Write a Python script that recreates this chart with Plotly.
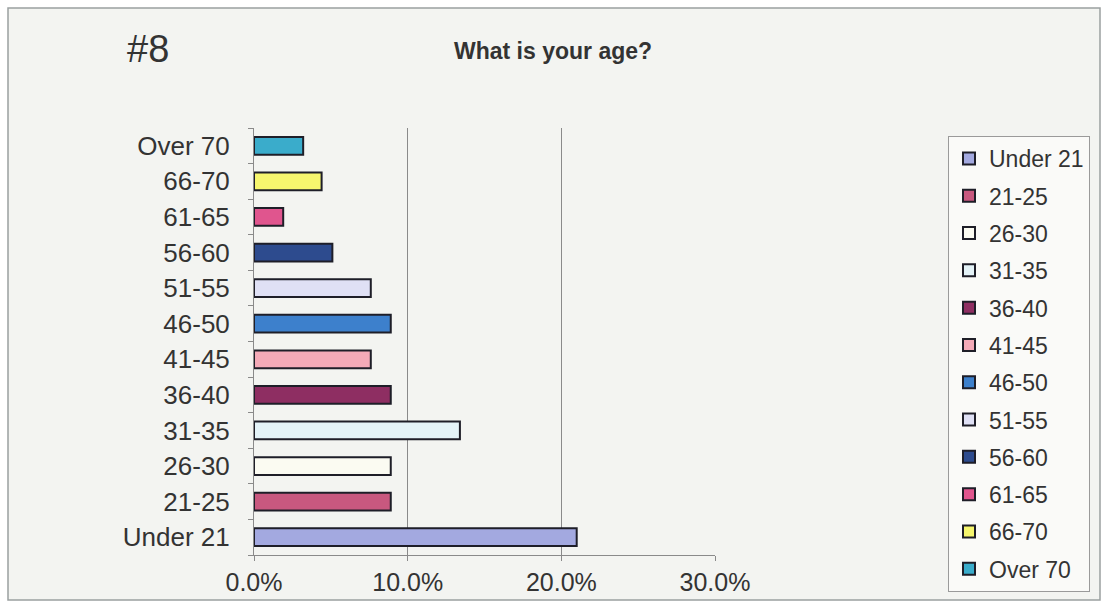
import plotly.graph_objects as go

categories = ["Under 21", "21-25", "26-30", "31-35", "36-40", "41-45",
              "46-50", "51-55", "56-60", "61-65", "66-70", "Over 70"]
values = [21.0, 8.9, 8.9, 13.4, 8.9, 7.6, 8.9, 7.6, 5.1, 1.9, 4.4, 3.2]
colors = ["#a3a9e0", "#c8587f", "#fbfbf2", "#e4f3f8", "#8e2e62", "#f4aab8",
          "#3d80cc", "#dfe0f5", "#2d4b8e", "#e0558e", "#f6f66e", "#3aaccb"]
x_ticks = [0, 10, 20, 30]
x_tick_labels = ["0.0%", "10.0%", "20.0%", "30.0%"]

FONT = "Liberation Sans, Arial, sans-serif"

fig = go.Figure()
for cat, val, col in zip(categories, values, colors):
    fig.add_trace(go.Bar(
        y=[cat], x=[val], name=cat, orientation="h", width=0.5,
        legendgroup=cat,
        marker=dict(color=col, line=dict(color="#1e1e28", width=2)),
    ))

W, H = 1107, 608
L, R, T, B = 254, 715, 128, 555
pw, ph = R - L, B - T

def px(x):
    return (x - L) / pw

def py(y):
    return (B - y) / ph

fig.update_layout(
    width=W, height=H,
    margin=dict(l=L, r=W - R, t=T, b=H - B),
    barmode="overlay",
    paper_bgcolor="#ffffff",
    plot_bgcolor="rgba(0,0,0,0)",
    font=dict(family=FONT, color="#333333"),
    showlegend=True,
    legend=dict(
        xref="container", yref="container",
        x=948 / W, y=1 - 136 / H, xanchor="left", yanchor="top",
        bgcolor="#fafaf8", bordercolor="#9a9a9a", borderwidth=1,
        font=dict(size=23, family=FONT, color="#333333"),
        traceorder="grouped", itemwidth=30, tracegroupgap=4.4,
        maxheight=600,
    ),
    xaxis=dict(
        range=[0, 30], tickvals=x_ticks, ticktext=x_tick_labels,
        showgrid=True, gridcolor="#8a8a8a", gridwidth=1,
        showline=True, linecolor="#8a8a8a", linewidth=1,
        ticks="outside", ticklen=5, tickcolor="#8a8a8a",
        tickfont=dict(size=25, family=FONT, color="#333333"),
        zeroline=False, fixedrange=True,
    ),
    yaxis=dict(
        type="category", categoryorder="array", categoryarray=categories,
        range=[-0.5, 11.5],
        showline=True, linecolor="#8a8a8a", linewidth=1,
        ticks="outside", ticklen=5, tickcolor="#8a8a8a", tickson="boundaries",
        tickfont=dict(size=26, family=FONT, color="#333333"),
        showgrid=False, fixedrange=True, ticklabelstandoff=18,
    ),
    shapes=[
        dict(type="rect", xref="paper", yref="paper",
             x0=px(8), x1=px(1100), y0=py(600), y1=py(8),
             fillcolor="#f3f4f1", line=dict(color="#9aa0a0", width=1.5),
             layer="below"),
    ],
    annotations=[
        dict(text="#8", xref="paper", yref="paper", x=px(148), y=py(49),
             xanchor="center", yanchor="middle",
             showarrow=False, font=dict(size=38, family=FONT, color="#333333")),
        dict(text="<b>What is your age?</b>", xref="paper", yref="paper",
             x=px(553), y=py(51), xanchor="center", yanchor="middle",
             showarrow=False, font=dict(size=23, family=FONT, color="#333333")),
    ],
)

fig.write_html("out.html")
